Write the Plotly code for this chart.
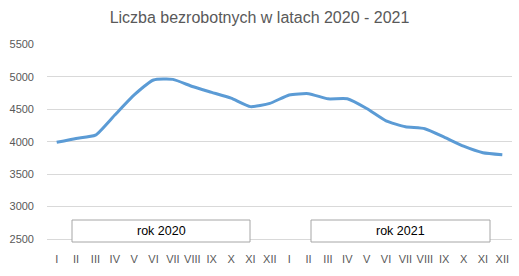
import plotly.graph_objects as go

months = ["I", "II", "III", "IV", "V", "VI", "VII", "VIII", "IX", "X", "XI", "XII"]
years = ["2020", "2021"]
values_2020 = [3990, 4050, 4100, 4410, 4720, 4950, 4960, 4850, 4760, 4670, 4540, 4590]
values_2021 = [4720, 4740, 4660, 4660, 4510, 4320, 4230, 4200, 4070, 3930, 3830, 3800]
year_labels = ["rok 2020", "rok 2021"]
title_text = "Liczba bezrobotnych w latach 2020 - 2021"

cats = [f"{y}-{m}" for y in years for m in months]
ticktext = months * len(years)
values = values_2020 + values_2021

W, H = 519, 276
L, R, T, B = 47, 7, 44, 37
pw, ph = W - L - R, H - T - B

fig = go.Figure()
fig.add_trace(go.Scatter(
    x=cats, y=values, mode="lines",
    line=dict(color="#5B9BD5", width=3, shape="spline", smoothing=0.5),
    hoverinfo="skip", showlegend=False,
))

font_fam = "Liberation Sans, Arial, sans-serif"

def px_x(p):
    return (p - L) / pw

def px_y(p):
    return (H - B - p) / ph

boxes = [(72, 250), (311, 490)]
for (x0, x1), lab in zip(boxes, year_labels):
    fig.add_shape(type="rect", xref="paper", yref="paper",
                  x0=px_x(x0), x1=px_x(x1), y0=px_y(242), y1=px_y(220),
                  line=dict(color="#A6A6A6", width=1), fillcolor="white", layer="above")
    fig.add_annotation(xref="paper", yref="paper", x=(px_x(x0) + px_x(x1)) / 2,
                       y=px_y(231), text=lab, showarrow=False,
                       font=dict(family=font_fam, size=12.5, color="#000000"),
                       xanchor="center", yanchor="middle")

fig.update_layout(
    width=W, height=H,
    margin=dict(l=L, r=R, t=T, b=B),
    paper_bgcolor="white", plot_bgcolor="white",
    title=dict(text=title_text, x=0.5, xref="container", xanchor="center",
               y=1 - 17 / H, yref="container", yanchor="middle",
               font=dict(family=font_fam, size=16, color="#595959")),
    xaxis=dict(type="category", tickmode="array", tickvals=cats, ticktext=ticktext,
               showgrid=False, showline=True, linecolor="#D9D9D9", linewidth=1,
               ticks="", ticklabelstandoff=10, tickangle=0,
               tickfont=dict(family=font_fam, size=11, color="#595959"),
               range=[-0.5, len(cats) - 0.5]),
    yaxis=dict(range=[2500, 5505], tickvals=[2500, 3000, 3500, 4000, 4500, 5000, 5500],
               showgrid=True, gridcolor="#D9D9D9", gridwidth=1, zeroline=False,
               showline=False, ticks="", ticklabelstandoff=12,
               tickfont=dict(family=font_fam, size=11, color="#595959")),
)

fig.write_html("out.html")
